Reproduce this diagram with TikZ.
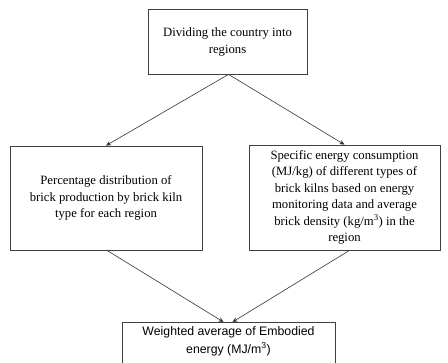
\documentclass[tikz,border=0pt]{standalone}
\usepackage{fontspec}
\setmainfont{Liberation Serif}
\newfontfamily\arialfont{Liberation Sans}
\usetikzlibrary{arrows.meta}
\tikzset{
  stepbox/.style={draw=black!75, line width=0.8pt, align=center, inner sep=2pt,
    font=\fontsize{12.7}{16.5}\selectfont},
  conn/.style={draw=black!80, line width=0.6pt, -{Stealth[length=5pt,width=4.5pt]}}
}
\begin{document}
\begin{tikzpicture}[x=1pt,y=1pt]
\useasboundingbox (0,0) rectangle (448,-363);
\clip (0,0) rectangle (448,-363);
\node[stepbox, minimum width=159pt, minimum height=65pt, font=\fontsize{12.7}{20}\selectfont] (top) at (227.5,-41.5)
  {\raisebox{-3pt}{Dividing the country into}\\regions};
\node[stepbox, minimum width=192pt, minimum height=104pt] (left) at (106,-198)
  {Percentage distribution of\\brick production by brick kiln\\type for each region};
\node[stepbox, minimum width=191pt, minimum height=105pt] (right) at (344.5,-197.5)
  {Specific energy consumption\\(MJ/kg) of different types of\\brick kilns based on energy\\monitoring data and average\\brick density (kg/m\textsuperscript{3}) in the\\region};
\draw[draw=black!75, line width=0.8pt] (122,-380) |- coordinate[pos=0.5] (corner) (335,-322) -- (335,-380);
\coordinate (bot) at (228.5,-322);
\node[font=\arialfont\fontsize{12.3}{18}\selectfont, align=center, anchor=north, inner sep=0pt] (bottxt) at (228.5,-326)
  {Weighted average of Embodied\\energy (MJ/m\textsuperscript{3})};
\draw[conn] ([xshift=1pt]top.south) -- (left.north);
\draw[conn] ([xshift=1pt]top.south) -- (right.north);
\draw[conn] ([xshift=1pt]left.south) -- ([xshift=-5pt]bot);
\draw[conn] ([xshift=5pt]right.south) -- ([xshift=4pt]bot);
\end{tikzpicture}
\end{document}
